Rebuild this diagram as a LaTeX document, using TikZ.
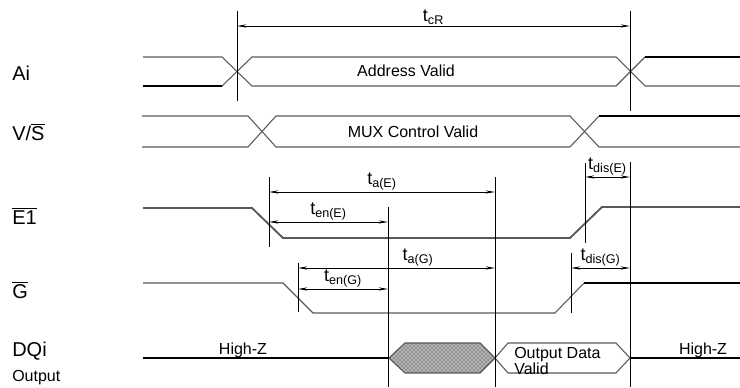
\documentclass[tikz,border=0pt]{standalone}
\usepackage{fontspec}
\setmainfont{Liberation Sans}
\usetikzlibrary{arrows.meta, patterns}

\begin{document}
\begin{tikzpicture}[
    x=0.75pt, y=-0.75pt, % one unit per pixel, y grows downwards
    > = {Stealth[length=7pt,width=2.4pt]}, % arrow head style
    font = \fontsize{12}{12}\selectfont, % text size
    line join = miter
  ]

  \tikzstyle{wave}=[draw=black!65, line width=0.8pt]
  \tikzstyle{strong}=[draw=black, line width=1.6pt]
  \tikzstyle{guide}=[draw=black, line width=0.7pt]
  \tikzstyle{dim}=[<->, line width=0.7pt]
  \tikzstyle{sig}=[anchor=west, inner sep=0pt, font=\fontsize{15}{15}\selectfont]
  \tikzstyle{tlabel}=[above, inner sep=1pt, font=\fontsize{13.5}{13.5}\selectfont]

  \useasboundingbox (0,0) rectangle (740,388);

  % signal names
  \node[sig] (ai) at (12,73) {Ai};
  \node[sig] (vs) at (12,132) {V/$\overline{\hbox{S}}$};
  \node[sig] (e1) at (12,216) {$\overline{\hbox{E1}}$};
  \node[sig] (g) at (12,290) {$\overline{\hbox{G}}$};
  \node[sig] (dq) at (12,351) {DQi};
  \node[anchor=west, inner sep=0pt] (dqo) at (12,378) {Output};

  % Ai
  \draw[wave] (143,57) -- (222,57) -- (252,86) -- (616,86) -- (645,57);
  \draw[wave] (143,86) -- (222,86) -- (252,57) -- (616,57) -- (645,86) -- (740,86);
  \draw[strong] (143,86) -- (222,86);
  \draw[strong] (645,57) -- (740,57);
  \node (addr) at (406,71) {Address Valid};

  % V/S
  \draw[wave] (142,116) -- (248,116) -- (276,147) -- (570,147) -- (599,116);
  \draw[wave] (142,147) -- (248,147) -- (276,116) -- (570,116) -- (599,147) -- (740,147);
  \draw[strong] (599,116) -- (740,116);
  \node (mux) at (413,132) {MUX Control Valid};

  % E1
  \draw[wave, line width=1.4pt] (143,208) -- (252,208) -- (283,238) -- (570,238) -- (602,207) -- (740,207);

  % G
  \draw[wave] (143,283) -- (283,283) -- (313,313) -- (555,313) -- (584,283);
  \draw[strong] (584,283) -- (740,283);

  % DQi
  \draw[strong] (143,358) -- (389,358);
  \node (hz1) at (243,350) {High-Z};
  \draw[wave, fill=black!30] (389,358) -- (405,343) -- (480,343) -- (495,358) -- (480,373) -- (405,373) -- cycle;
  \fill[pattern=crosshatch dots, pattern color=black!80] (389,358) -- (405,343) -- (480,343) -- (495,358) -- (480,373) -- (405,373) -- cycle;
  \draw[wave] (495,358) -- (508,343) -- (616,343) -- (630,358) -- (616,373) -- (508,373) -- cycle;
  \node[anchor=west, align=left, inner sep=0pt] (odv) at (514,361) {Output Data\\Valid};
  \draw[strong] (630,358) -- (740,358);
  \node (hz2) at (703,350) {High-Z};

  % timing guides
  \draw[guide] (237,11) -- (237,101);
  \draw[guide] (630,11) -- (630,111);
  \draw[guide] (630,162) -- (630,387);
  \draw[guide] (269,177) -- (269,247);
  \draw[guide] (388,207) -- (388,387);
  \draw[guide] (495,177) -- (495,387);
  \draw[guide] (298,263) -- (298,312);
  \draw[guide] (585,163) -- (585,243);
  \draw[guide] (571,253) -- (571,313);

  % arrow ends
  \coordinate (cr-l) at (237,26);   \coordinate (cr-r) at (630,26);
  \coordinate (ae-l) at (269,192);  \coordinate (ae-r) at (495,192);
  \coordinate (ene-l) at (269,222); \coordinate (ene-r) at (388,222);
  \coordinate (ag-l) at (298,268);  \coordinate (ag-r) at (495,268);
  \coordinate (eng-l) at (298,289); \coordinate (eng-r) at (388,289);
  \coordinate (de-l) at (585,177);  \coordinate (de-r) at (630,177);
  \coordinate (dg-l) at (571,268);  \coordinate (dg-r) at (630,268);

  \draw[dim] (cr-l) -- node[tlabel] (tcr) {t\textsubscript{cR}} (cr-r);
  \draw[dim] (ae-l) -- node[tlabel] (tae) {t\textsubscript{a(E)}} (ae-r);
  \draw[dim] (ene-l) -- node[tlabel] (tene) {t\textsubscript{en(E)}} (ene-r);
  \draw[dim] (ag-l) -- node[tlabel, pos=0.61] (tag) {t\textsubscript{a(G)}} (ag-r);
  \draw[dim] (eng-l) -- node[tlabel] (teng) {t\textsubscript{en(G)}} (eng-r);
  \draw[dim] (de-l) -- node[tlabel] (tde) {t\textsubscript{dis(E)}} (de-r);
  \draw[dim] (dg-l) -- node[tlabel] (tdg) {t\textsubscript{dis(G)}} (dg-r);

\end{tikzpicture}
\end{document}
